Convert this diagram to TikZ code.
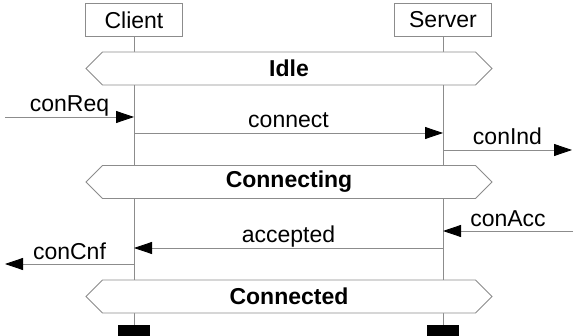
\documentclass[tikz,border=0pt]{standalone}
\usepackage{fontspec}
\setmainfont{Liberation Sans}
\usetikzlibrary{arrows.meta, positioning, shapes.symbols}
\colorlet{colLinea}{black!45}
\colorlet{colTexto}{black}
\tikzset{
  cajaInstancia/.style={
    draw=colLinea, line width=0.8pt, fill=white,
    minimum width=97pt, minimum height=33pt, inner sep=0pt,
    font=\fontsize{23}{27}\selectfont, text=colTexto
  },
  cajaEstado/.style={
    signal, signal to=east and west, signal pointer angle=90,
    draw=colLinea, line width=0.8pt, fill=white,
    minimum width=406pt, minimum height=33pt, inner sep=0pt,
    font=\fontsize{23}{27}\selectfont\bfseries, text=colTexto
  },
  lineaVida/.style={colLinea, line width=0.8pt},
  flecha/.style={-{Triangle[length=18pt, width=12pt, color=black]}, colLinea, line width=0.8pt},
  etiquetaFlecha/.style={midway, anchor=base, yshift=5pt,
    font=\fontsize{23}{27}\selectfont, text=colTexto},
  barraFin/.style={fill=black, minimum width=32pt, minimum height=12pt, inner sep=0pt},
}
\begin{document}
\begin{tikzpicture}[x=1pt, y=-1pt]
  \useasboundingbox (0,0) rectangle (577,336);
  % instancias
  \node[cajaInstancia] (client) at (134,20) {Client};
  \node[cajaInstancia] (server) at (443,20) {Server};
  \node[barraFin] (clientFin) at (134,331) {};
  \node[barraFin] (serverFin) at (443,331) {};
  \draw[lineaVida] (client) -- (clientFin);
  \draw[lineaVida] (server) -- (serverFin);

  % estados
  \node[cajaEstado] (idle) at (289,68.5) {Idle};
  \node[cajaEstado] (connecting) at (289,182) {Connecting};
  \node[cajaEstado] (connected) at (289,296.5) {Connected};

  % mensajes
  \coordinate (reqIn) at (5,117);
  \coordinate (reqC) at (client |- reqIn);
  \coordinate (conC) at (client |- 0,133);
  \coordinate (conS) at (server |- conC);
  \coordinate (indS) at (server |- 0,150);
  \coordinate (indOut) at (572,150);
  \coordinate (accIn) at (573,231);
  \coordinate (accS) at (server |- accIn);
  \coordinate (aceS) at (server |- 0,248);
  \coordinate (aceC) at (client |- aceS);
  \coordinate (cnfC) at (client |- 0,264);
  \coordinate (cnfOut) at (5,264);

  \draw[flecha] (reqIn) -- node[etiquetaFlecha]{conReq} (reqC);
  \draw[flecha] (conC) -- node[etiquetaFlecha]{connect} (conS);
  \draw[flecha] (indS) -- node[etiquetaFlecha]{conInd} (indOut);
  \draw[flecha] (accIn) -- node[etiquetaFlecha]{conAcc} (accS);
  \draw[flecha] (aceS) -- node[etiquetaFlecha]{accepted} (aceC);
  \draw[flecha] (cnfC) -- node[etiquetaFlecha]{conCnf} (cnfOut);
\end{tikzpicture}
\end{document}
